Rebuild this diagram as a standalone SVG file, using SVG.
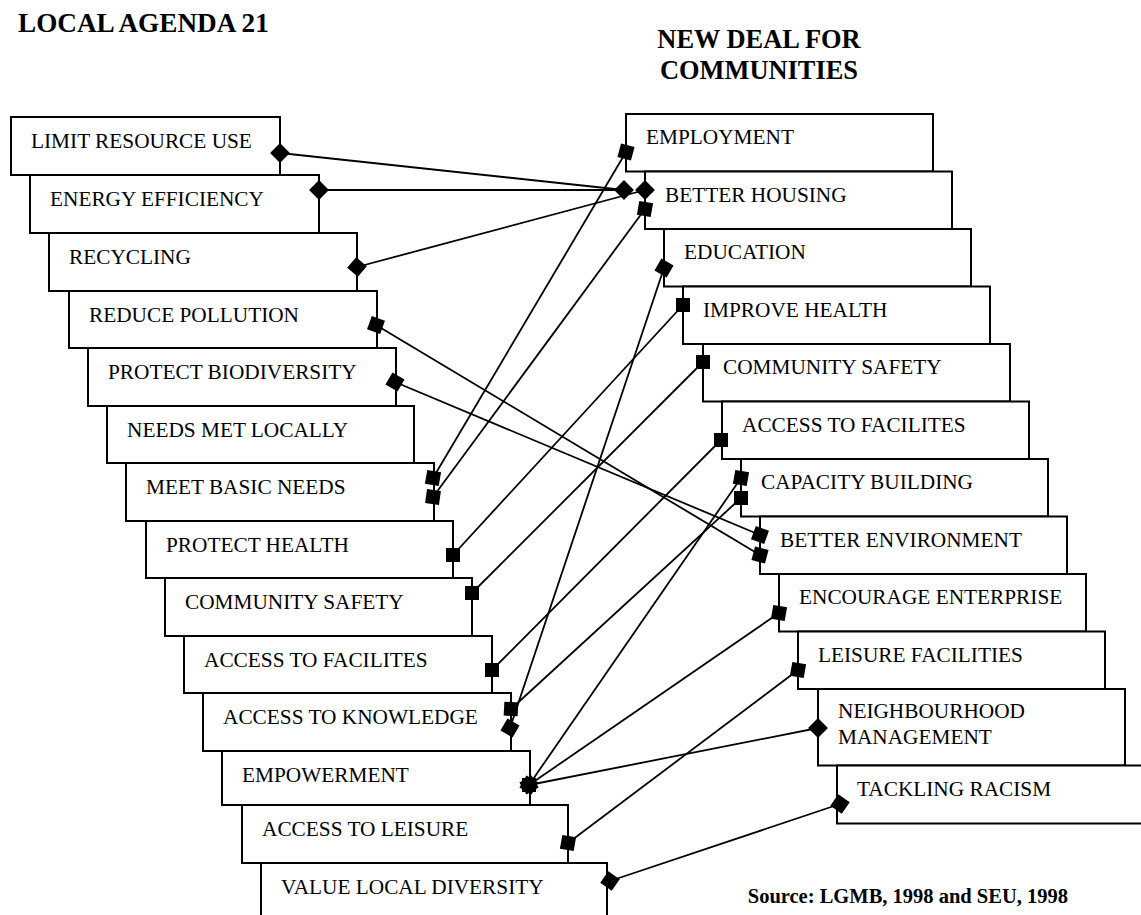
<svg xmlns="http://www.w3.org/2000/svg" xmlns:xlink="http://www.w3.org/1999/xlink" width="1141" height="915" viewBox="0 0 1141 915">
  <style>
    .box rect { fill: #fff; stroke: #000; stroke-width: 2; }
    .box text { font-family: "Liberation Serif", "Times New Roman", serif; font-size: 21.3px; fill: #000; }
    .title { font-family: "Liberation Serif", "Times New Roman", serif; font-weight: bold; fill: #000; }
    #connectors line { stroke: #000; stroke-width: 1.8; }
    .mk { fill: #000; }
  </style>
  <defs>
    <!-- end marker: small filled square, rotated as needed (45deg = diamond) -->
    <rect id="sq" x="-7" y="-7" width="14" height="14"/>
  </defs>
  <rect width="1141" height="915" fill="#fff"/>

  <!-- headings -->
  <text class="title" x="18" y="32" font-size="27.2">LOCAL AGENDA 21</text>
  <text class="title" x="759" y="48" font-size="26.4" text-anchor="middle">NEW DEAL FOR</text>
  <text class="title" x="759" y="79" font-size="26.4" text-anchor="middle">COMMUNITIES</text>

  <!-- Local Agenda 21 themes (staircase, left) -->
  <g id="la-limit-resource-use" class="box"><rect x="11" y="117" width="269" height="58"/><text x="31" y="148">LIMIT RESOURCE USE</text></g>
  <g id="la-energy-efficiency" class="box"><rect x="30" y="175" width="289" height="58"/><text x="50" y="206">ENERGY EFFICIENCY</text></g>
  <g id="la-recycling" class="box"><rect x="49" y="233" width="308" height="58"/><text x="69" y="264">RECYCLING</text></g>
  <g id="la-reduce-pollution" class="box"><rect x="69" y="291" width="308" height="57"/><text x="89" y="322">REDUCE POLLUTION</text></g>
  <g id="la-protect-biodiversity" class="box"><rect x="88" y="348" width="308" height="58"/><text x="108" y="379">PROTECT BIODIVERSITY</text></g>
  <g id="la-needs-met-locally" class="box"><rect x="107" y="406" width="307" height="57"/><text x="127" y="437">NEEDS MET LOCALLY</text></g>
  <g id="la-meet-basic-needs" class="box"><rect x="126" y="463" width="308" height="58"/><text x="146" y="494">MEET BASIC NEEDS</text></g>
  <g id="la-protect-health" class="box"><rect x="146" y="521" width="307" height="57"/><text x="166" y="552">PROTECT HEALTH</text></g>
  <g id="la-community-safety" class="box"><rect x="165" y="578" width="307" height="58"/><text x="185" y="609">COMMUNITY SAFETY</text></g>
  <g id="la-access-to-facilites" class="box"><rect x="184" y="636" width="308" height="57"/><text x="204" y="667">ACCESS TO FACILITES</text></g>
  <g id="la-access-to-knowledge" class="box"><rect x="203" y="693" width="308" height="58"/><text x="223" y="724">ACCESS TO KNOWLEDGE</text></g>
  <g id="la-empowerment" class="box"><rect x="222" y="751" width="308" height="54"/><text x="242" y="782">EMPOWERMENT</text></g>
  <g id="la-access-to-leisure" class="box"><rect x="242" y="805" width="326" height="58"/><text x="262" y="836">ACCESS TO LEISURE</text></g>
  <g id="la-value-local-diversity" class="box"><rect x="261" y="863" width="346" height="60"/><text x="281" y="894">VALUE LOCAL DIVERSITY</text></g>

  <!-- New Deal for Communities themes (staircase, right) -->
  <g id="nd-employment" class="box"><rect x="626" y="114" width="307" height="57.5"/><text x="646" y="144">EMPLOYMENT</text></g>
  <g id="nd-better-housing" class="box"><rect x="645" y="171.5" width="307" height="57.5"/><text x="665" y="201.5">BETTER HOUSING</text></g>
  <g id="nd-education" class="box"><rect x="664" y="229" width="307" height="57.5"/><text x="684" y="259">EDUCATION</text></g>
  <g id="nd-improve-health" class="box"><rect x="683" y="286.5" width="307" height="57.5"/><text x="703" y="316.5">IMPROVE HEALTH</text></g>
  <g id="nd-community-safety" class="box"><rect x="703" y="344" width="307" height="57.5"/><text x="723" y="374">COMMUNITY SAFETY</text></g>
  <g id="nd-access-to-facilites" class="box"><rect x="722" y="401.5" width="307" height="57.5"/><text x="742" y="431.5">ACCESS TO FACILITES</text></g>
  <g id="nd-capacity-building" class="box"><rect x="741" y="459" width="307" height="57.5"/><text x="761" y="489">CAPACITY BUILDING</text></g>
  <g id="nd-better-environment" class="box"><rect x="760" y="516.5" width="307" height="57.5"/><text x="780" y="546.5">BETTER ENVIRONMENT</text></g>
  <g id="nd-encourage-enterprise" class="box"><rect x="779" y="574" width="307" height="57.5"/><text x="799" y="604">ENCOURAGE ENTERPRISE</text></g>
  <g id="nd-leisure-facilities" class="box"><rect x="798" y="631.5" width="307" height="57.5"/><text x="818" y="661.5">LEISURE FACILITIES</text></g>
  <g id="nd-neighbourhood-management" class="box"><rect x="818" y="689" width="307" height="76.5"/><text x="838" y="718">NEIGHBOURHOOD</text><text x="838" y="744">MANAGEMENT</text></g>
  <g id="nd-tackling-racism" class="box"><rect x="837" y="765.5" width="310" height="58"/><text x="857" y="795.5">TACKLING RACISM</text></g>

  <!-- links between the two programmes -->
  <g id="connectors">
    <line x1="280" y1="153" x2="624" y2="190"/>
    <line x1="319" y1="190" x2="624" y2="190"/>
    <line x1="357" y1="267" x2="645" y2="190"/>
    <line x1="376" y1="325" x2="760" y2="555"/>
    <line x1="395" y1="382" x2="760" y2="535"/>
    <line x1="433" y1="478" x2="626" y2="152"/>
    <line x1="433" y1="497" x2="645" y2="209"/>
    <line x1="453" y1="555" x2="683" y2="305"/>
    <line x1="472" y1="593" x2="703" y2="362"/>
    <line x1="492" y1="670" x2="721" y2="440"/>
    <line x1="511" y1="709" x2="741" y2="498"/>
    <line x1="510" y1="728" x2="664" y2="268"/>
    <line x1="529" y1="785" x2="741" y2="478"/>
    <line x1="529" y1="785" x2="779" y2="613"/>
    <line x1="529" y1="785" x2="818" y2="728"/>
    <line x1="568" y1="843" x2="798" y2="670"/>
    <line x1="610" y1="881" x2="840" y2="804"/>

    <!-- end markers -->
    <g class="mk">
      <use xlink:href="#sq" transform="translate(280,153) rotate(45)"/>
      <use xlink:href="#sq" transform="translate(319,190) rotate(45)"/>
      <use xlink:href="#sq" transform="translate(357,267) rotate(40)"/>
      <use xlink:href="#sq" transform="translate(376,325) rotate(20)"/>
      <use xlink:href="#sq" transform="translate(395,382) rotate(30)"/>
      <use xlink:href="#sq" transform="translate(433,478) rotate(10)"/>
      <use xlink:href="#sq" transform="translate(433,497) rotate(8)"/>
      <use xlink:href="#sq" transform="translate(453,555)"/>
      <use xlink:href="#sq" transform="translate(472,593)"/>
      <use xlink:href="#sq" transform="translate(492,670)"/>
      <use xlink:href="#sq" transform="translate(511,709) rotate(3)"/>
      <use xlink:href="#sq" transform="translate(510,728) rotate(30)"/>
      <use xlink:href="#sq" transform="translate(529,785)"/>
      <use xlink:href="#sq" transform="translate(529,785) rotate(30)"/>
      <use xlink:href="#sq" transform="translate(529,785) rotate(60)"/>
      <use xlink:href="#sq" transform="translate(568,843) rotate(10)"/>
      <use xlink:href="#sq" transform="translate(610,881) rotate(35)"/>

      <use xlink:href="#sq" transform="translate(626,152) rotate(15)"/>
      <use xlink:href="#sq" transform="translate(624,190) rotate(45)"/>
      <use xlink:href="#sq" transform="translate(645,190) rotate(45)"/>
      <use xlink:href="#sq" transform="translate(645,209) rotate(10)"/>
      <use xlink:href="#sq" transform="translate(664,268) rotate(30)"/>
      <use xlink:href="#sq" transform="translate(683,305)"/>
      <use xlink:href="#sq" transform="translate(703,362)"/>
      <use xlink:href="#sq" transform="translate(721,440)"/>
      <use xlink:href="#sq" transform="translate(741,478) rotate(10)"/>
      <use xlink:href="#sq" transform="translate(741,498)"/>
      <use xlink:href="#sq" transform="translate(760,535) rotate(20)"/>
      <use xlink:href="#sq" transform="translate(760,555) rotate(15)"/>
      <use xlink:href="#sq" transform="translate(779,613) rotate(10)"/>
      <use xlink:href="#sq" transform="translate(798,670) rotate(10)"/>
      <use xlink:href="#sq" transform="translate(818,728) rotate(45)"/>
      <use xlink:href="#sq" transform="translate(840,804) rotate(35)"/>
    </g>
  </g>

  <text class="title" x="1068" y="903" font-size="20.5" text-anchor="end">Source: LGMB, 1998 and SEU, 1998</text>
</svg>
